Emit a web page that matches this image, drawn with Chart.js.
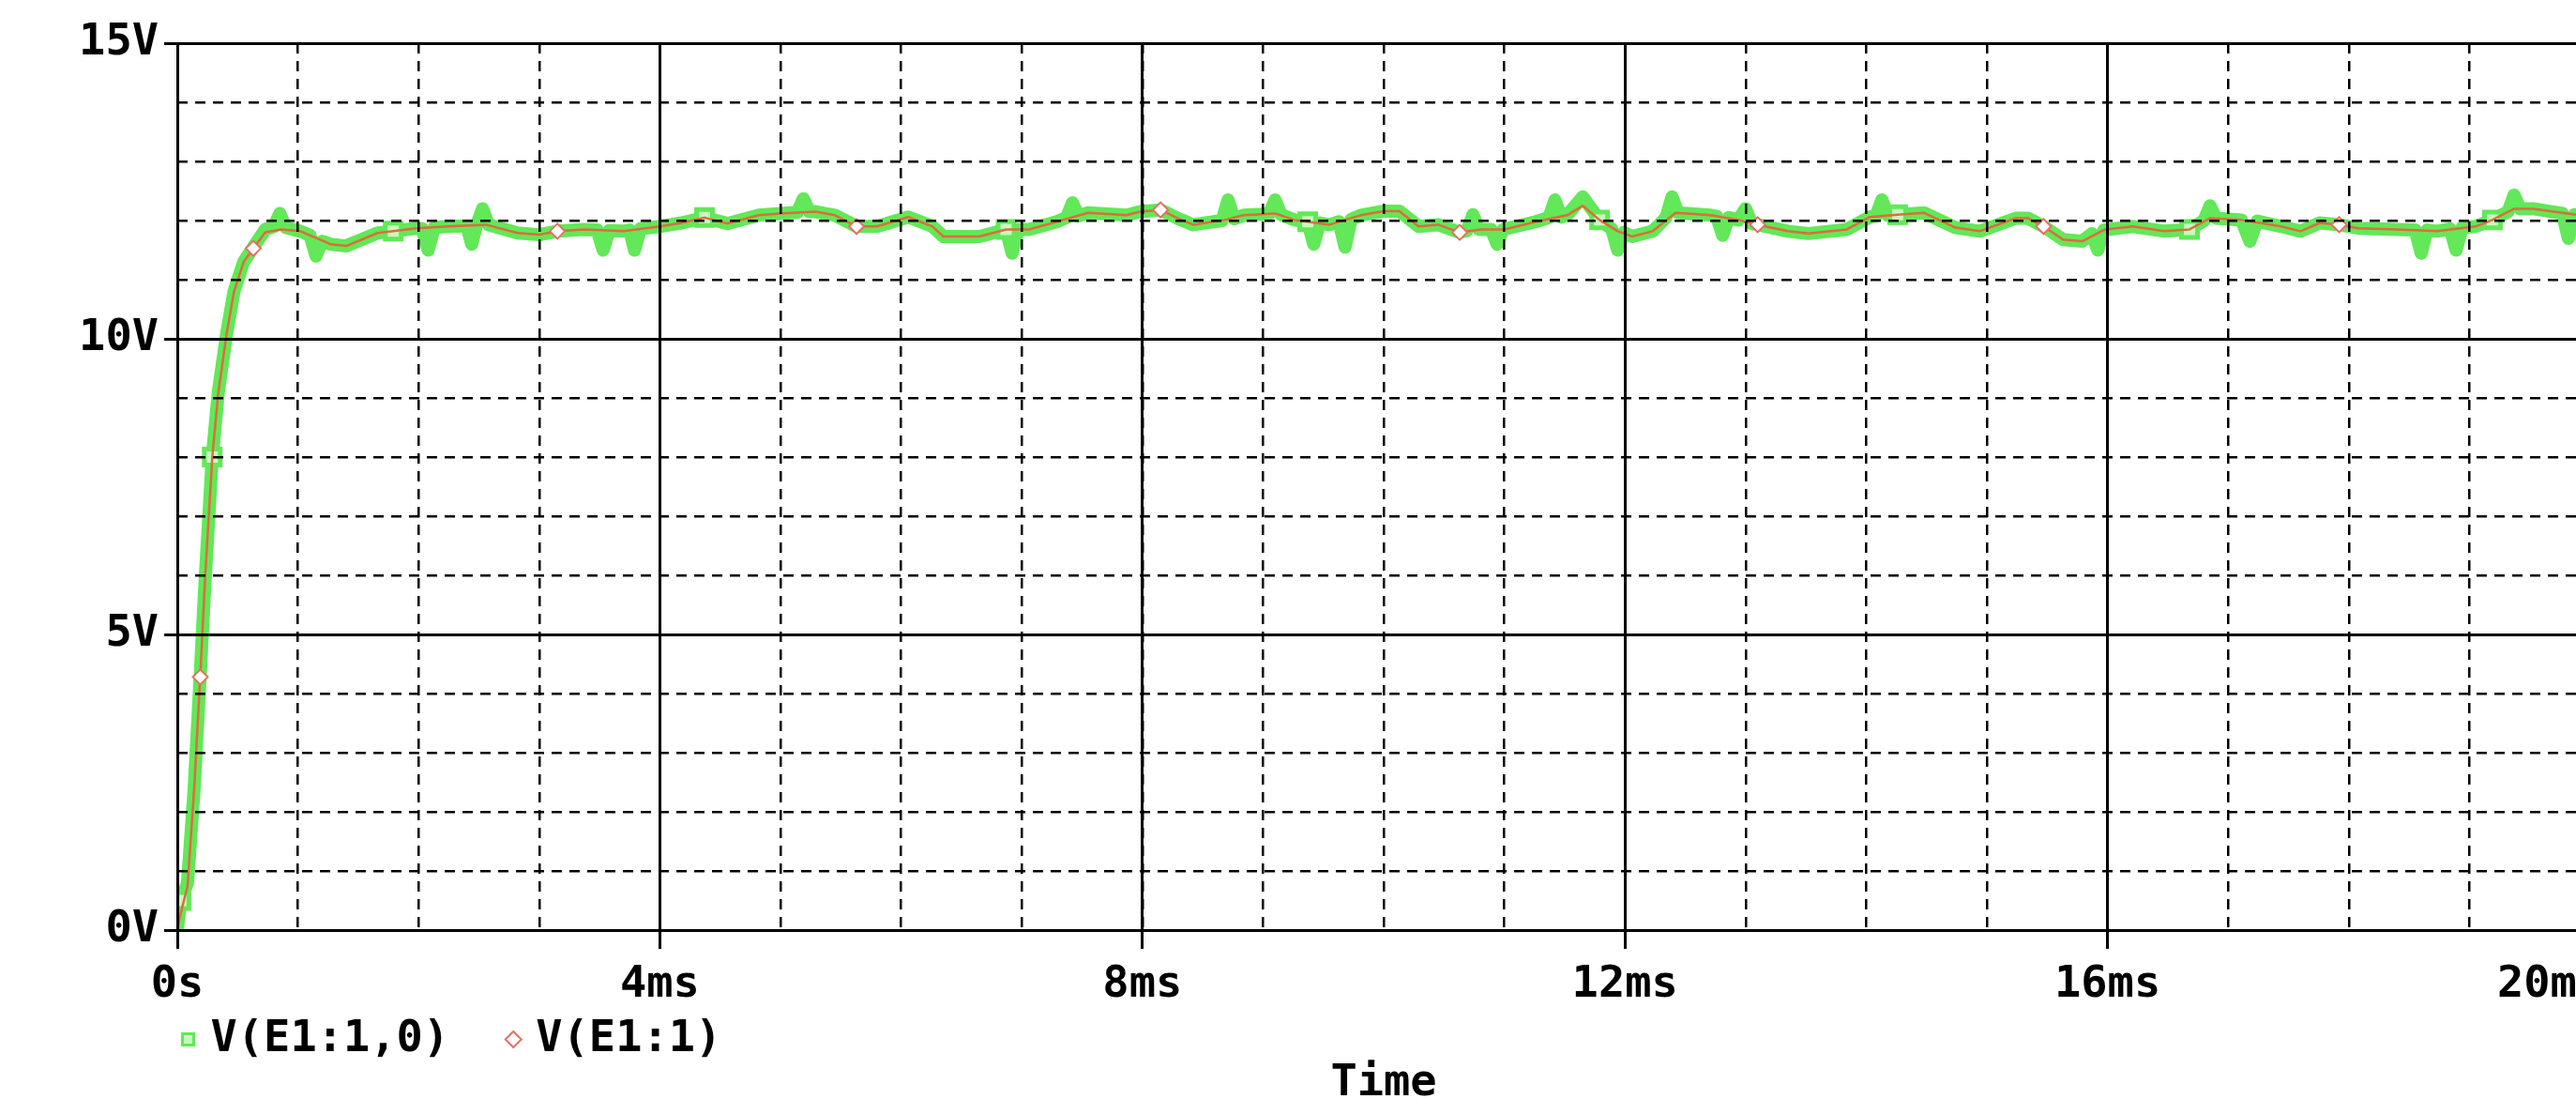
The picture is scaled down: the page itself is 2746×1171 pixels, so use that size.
<!DOCTYPE html>
<html>
<head>
<meta charset="utf-8">
<title>V(E1:1,0) and V(E1:1) vs Time</title>
<script src="https://cdn.jsdelivr.net/npm/chart.js@4.4.1/dist/chart.umd.min.js"></script>
<style>
  html, body { margin: 0; padding: 0; background: #fff; overflow: hidden; }
  #wrap { width: 2886px; height: 1171px; }
</style>
</head>
<body>
<div id="wrap"><canvas id="scope" width="2886" height="1171"></canvas></div>
<script>
// trace V(E1:1) (thin red line), time in ms, value in volts
const redTimeMs = [
  0, 0.03, 0.085, 0.14, 0.19, 0.23, 0.29, 0.34, 0.41, 0.47,
  0.55, 0.63, 0.73, 0.86, 1.02, 1.27, 1.4, 1.66, 1.79, 1.98,
  2.24, 2.56, 2.82, 3.0, 3.15, 3.37, 3.7, 4.0, 4.18, 4.37,
  4.56, 4.82, 5.0, 5.29, 5.45, 5.63, 5.8, 6.06, 6.26, 6.35,
  6.65, 6.87, 7.06, 7.29, 7.55, 7.87, 7.98, 8.15, 8.29, 8.42,
  8.68, 8.84, 9.1, 9.26, 9.37, 9.55, 9.81, 10.0, 10.13, 10.29,
  10.45, 10.63, 10.81, 11.0, 11.26, 11.52, 11.65, 11.79, 11.94, 12.06,
  12.23, 12.42, 12.71, 12.94, 13.1, 13.35, 13.52, 13.84, 14.03, 14.26,
  14.48, 14.74, 14.94, 15.05, 15.24, 15.34, 15.47, 15.63, 15.79, 15.98,
  16.21, 16.47, 16.68, 16.85, 17.11, 17.44, 17.6, 17.76, 17.92, 18.08,
  18.4, 18.73, 19.05, 19.19, 19.37, 19.53, 19.91, 20.0
];
const redVolts = [
  0, 0.3, 0.74, 2.4, 4.28, 5.94, 8.0, 9.09, 10.1, 10.8,
  11.3, 11.53, 11.8, 11.85, 11.82, 11.6, 11.57, 11.79, 11.82, 11.87,
  11.9, 11.93, 11.79, 11.76, 11.82, 11.85, 11.82, 11.9, 11.96, 12.05,
  11.95, 12.09, 12.12, 12.15, 12.09, 11.9, 11.9, 12.06, 11.9, 11.73,
  11.73, 11.85, 11.85, 11.98, 12.13, 12.09, 12.15, 12.18, 12.04, 11.93,
  12.01, 12.09, 12.12, 12.01, 11.98, 11.93, 12.09, 12.16, 12.16, 11.9,
  11.93, 11.8, 11.85, 11.85, 11.98, 12.09, 12.25, 12.01, 11.82, 11.73,
  11.82, 12.13, 12.09, 12.01, 11.93, 11.82, 11.78, 11.85, 12.06, 12.1,
  12.13, 11.88, 11.82, 11.9, 12.04, 12.04, 11.9, 11.68, 11.65, 11.85,
  11.9, 11.82, 11.85, 12.04, 12.01, 11.9, 11.82, 11.96, 11.93, 11.87,
  11.85, 11.82, 11.9, 12.01, 12.2, 12.2, 12.09, 12.06
];

// trace V(E1:1,0) (wide green band, with its spikes)
const greenTimeMs = [
  0, 0.03, 0.085, 0.14, 0.19, 0.23, 0.29, 0.34, 0.41, 0.47,
  0.55, 0.63, 0.73, 0.8, 0.85, 0.9, 1.02, 1.1, 1.15, 1.2,
  1.27, 1.4, 1.66, 1.79, 1.98, 2.03, 2.08, 2.13, 2.24, 2.4,
  2.44, 2.48, 2.53, 2.58, 2.82, 3.0, 3.15, 3.37, 3.48, 3.53,
  3.58, 3.7, 3.75, 3.79, 3.84, 4.0, 4.18, 4.37, 4.56, 4.82,
  5.0, 5.14, 5.19, 5.24, 5.29, 5.45, 5.63, 5.8, 6.06, 6.26,
  6.35, 6.65, 6.87, 6.92, 6.97, 7.06, 7.29, 7.37, 7.42, 7.47,
  7.55, 7.87, 7.98, 8.15, 8.29, 8.42, 8.66, 8.71, 8.76, 8.84,
  9.05, 9.1, 9.15, 9.26, 9.37, 9.42, 9.47, 9.55, 9.63, 9.68,
  9.73, 9.81, 10.0, 10.13, 10.29, 10.45, 10.63, 10.69, 10.74, 10.79,
  10.89, 10.94, 10.99, 11.26, 11.37, 11.42, 11.47, 11.52, 11.65, 11.79,
  11.89, 11.94, 11.99, 12.06, 12.23, 12.34, 12.39, 12.44, 12.71, 12.76,
  12.81, 12.86, 12.94, 13.0, 13.05, 13.1, 13.35, 13.52, 13.84, 14.03,
  14.08, 14.13, 14.18, 14.26, 14.48, 14.74, 14.94, 15.05, 15.24, 15.34,
  15.47, 15.63, 15.79, 15.87, 15.92, 15.97, 16.21, 16.47, 16.68, 16.8,
  16.85, 16.9, 17.11, 17.18, 17.24, 17.44, 17.6, 17.76, 17.92, 18.08,
  18.4, 18.55, 18.6, 18.65, 18.73, 18.84, 18.89, 18.94, 19.05, 19.19,
  19.32, 19.37, 19.42, 19.53, 19.77, 19.82, 19.87, 19.91, 20.0
];
const greenVolts = [
  0, 0.5, 0.8, 2.4, 4.3, 5.9, 8.0, 9.1, 10.1, 10.8,
  11.3, 11.55, 11.85, 11.9, 12.12, 11.88, 11.82, 11.75, 11.4, 11.65,
  11.6, 11.57, 11.79, 11.82, 11.87, 11.86, 11.5, 11.88, 11.9, 11.91,
  11.6, 11.92, 12.2, 11.93, 11.79, 11.76, 11.82, 11.85, 11.84, 11.5,
  11.83, 11.82, 11.84, 11.5, 11.86, 11.9, 11.96, 12.05, 11.95, 12.09,
  12.12, 12.14, 12.37, 12.15, 12.15, 12.09, 11.9, 11.9, 12.06, 11.9,
  11.73, 11.73, 11.85, 11.45, 11.85, 11.85, 11.98, 12.05, 12.3, 12.08,
  12.13, 12.09, 12.15, 12.18, 12.04, 11.93, 12.0, 12.35, 12.03, 12.09,
  12.11, 12.35, 12.1, 12.01, 11.98, 11.6, 11.96, 11.93, 11.98, 11.55,
  12.02, 12.09, 12.16, 12.16, 11.9, 11.93, 11.8, 11.83, 12.1, 11.85,
  11.85, 11.6, 11.85, 11.98, 12.05, 12.35, 12.06, 12.09, 12.4, 12.01,
  11.86, 11.5, 11.8, 11.73, 11.82, 12.05, 12.4, 12.13, 12.09, 12.07,
  11.75, 12.05, 12.01, 12.2, 11.95, 11.93, 11.82, 11.78, 11.85, 12.06,
  12.08, 12.35, 12.09, 12.1, 12.13, 11.88, 11.82, 11.9, 12.04, 12.04,
  11.9, 11.68, 11.65, 11.78, 11.5, 11.84, 11.9, 11.82, 11.85, 12.0,
  12.25, 12.04, 12.01, 11.65, 11.99, 11.9, 11.82, 11.96, 11.93, 11.87,
  11.85, 11.84, 11.45, 11.84, 11.82, 11.86, 11.5, 11.88, 11.9, 12.01,
  12.15, 12.43, 12.2, 12.2, 12.12, 11.7, 12.1, 12.09, 12.06
];

// where the probe markers sit (ms)
const squareMarkerMs = [0.03, 0.29, 1.79, 4.37, 6.87, 9.37, 11.79, 14.26, 16.68, 19.19];
const diamondMarkerMs = [0.19, 0.63, 3.15, 5.63, 8.15, 10.63, 13.1, 15.47, 17.92];

const seriesNames = ['V(E1:1,0)', 'V(E1:1)'];
// last label sits a bit left of its line in the original, hence the padding spaces
const xTickLabels = ['0s', '4ms', '8ms', '12ms', '16ms', '20ms   '];
const yTickLabels = ['0V', '5V', '10V', '15V'];
const xAxisTitle = 'Time';

const GREEN = 'rgb(98, 232, 88)';
const GREEN_FILL = 'rgb(200, 250, 192)';
const RED = 'rgb(222, 108, 60)';
const DIAMOND = 'rgb(232, 110, 100)';
const INK = '#000';
const MONO = { family: "'DejaVu Sans Mono', 'Liberation Mono', monospace", size: 47, weight: 'bold', lineHeight: 1 };

function toPoints(times, volts) {
  return times.map((t, i) => ({ x: t, y: volts[i] }));
}

function markerRadius(list, r) {
  return ctx => (ctx.raw && list.includes(ctx.raw.x)) ? r : 0;
}

// solid major grid + labels
function majorAxis(position, min, max, step, labels, tickLen, pad) {
  return {
    type: 'linear', position, min, max,
    ticks: {
      stepSize: step, autoSkip: false, maxRotation: 0, padding: pad,
      color: INK, font: MONO,
      callback: (v, i) => labels[i]
    },
    grid: { color: INK, lineWidth: 3, tickLength: tickLen, tickWidth: 3, tickColor: INK, z: 1 },
    border: { display: true, color: INK, width: 3, z: 1 }
  };
}

// dashed minor grid, no labels
function minorAxis(position, min, max) {
  return {
    type: 'linear', position, min, max,
    afterFit: s => { if (position === 'left') s.width = 0; else s.height = 0; },
    ticks: { display: false, stepSize: 1 },
    grid: { color: INK, lineWidth: 2.5, drawTicks: false, z: 1 },
    border: { display: false, dash: [11, 8] }
  };
}

const xMajor = majorAxis('bottom', 0, 20, 4, xTickLabels, 20, 15);
xMajor.afterFit = s => { s.height = 82; };
const yMajor = majorAxis('left', 0, 15, 5, yTickLabels, 14, 6);
yMajor.afterFit = s => { s.width = 189; };

new Chart(document.getElementById('scope'), {
  type: 'line',
  data: {
    datasets: [
      {
        label: seriesNames[0],
        data: toPoints(greenTimeMs, greenVolts),
        borderColor: GREEN,
        borderWidth: 14,
        borderJoinStyle: 'round',
        borderCapStyle: 'round',
        tension: 0,
        pointStyle: 'rect',
        pointRadius: markerRadius(squareMarkerMs, 12),
        pointBorderColor: GREEN,
        pointBackgroundColor: GREEN_FILL,
        pointBorderWidth: 5,
        order: 2
      },
      {
        label: seriesNames[1],
        data: toPoints(redTimeMs, redVolts),
        borderColor: RED,
        borderWidth: 2.5,
        borderJoinStyle: 'round',
        tension: 0,
        pointStyle: 'rectRot',
        pointRadius: markerRadius(diamondMarkerMs, 8),
        pointBorderColor: DIAMOND,
        pointBackgroundColor: '#fff',
        pointBorderWidth: 2,
        order: 1
      }
    ]
  },
  options: {
    responsive: false,
    animation: false,
    events: [],
    layout: { padding: { top: 46, right: 125, bottom: 1.8, left: 0 } },
    plugins: {
      tooltip: { enabled: false },
      legend: {
        position: 'bottom',
        align: 'start',
        fullSize: false,
        labels: {
          usePointStyle: true,
          boxWidth: 1,
          boxHeight: 12,
          padding: 11,
          color: INK,
          font: MONO,
          generateLabels: () => [
            { text: seriesNames[0] + '  ', pointStyle: 'rect', fillStyle: GREEN_FILL, strokeStyle: GREEN, lineWidth: 3, fontColor: INK, hidden: false, datasetIndex: 0 },
            { text: seriesNames[1], pointStyle: 'rectRot', fillStyle: '#fff', strokeStyle: DIAMOND, lineWidth: 2, fontColor: INK, hidden: false, datasetIndex: 1 }
          ]
        }
      },
      title: {
        display: true,
        text: xAxisTitle,
        position: 'bottom',
        fullSize: false,
        color: INK,
        font: Object.assign({}, MONO, { lineHeight: 0.6 }),
        padding: 0
      }
    },
    scales: {
      x: xMajor,
      xMinor: minorAxis('bottom', 0, 20),
      y: yMajor,
      yMinor: minorAxis('left', 0, 15)
    }
  }
});
</script>
</body>
</html>
